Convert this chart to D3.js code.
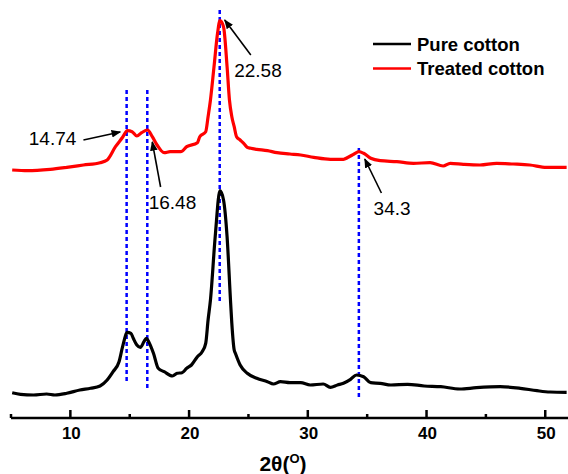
<!DOCTYPE html>
<html>
<head>
<meta charset="utf-8">
<script src="https://cdn.jsdelivr.net/npm/d3@7"></script>
<style>
  html, body { margin: 0; padding: 0; background: #fff; }
  svg { display: block; }
</style>
</head>
<body>
<svg id="chart" width="568" height="474"></svg>
<script>
// ---- Data (2θ in degrees, intensity in arbitrary units) ----
const pureTheta = [5.1,5.8,6.9,8.0,8.7,9.7,10.8,11.7,12.5,13.1,13.6,14.1,14.4,14.8,15.1,15.3,15.6,15.9,16.2,16.4,16.6,17.0,17.4,17.9,18.6,19.0,19.4,19.8,20.2,20.7,21.1,21.4,21.6,21.8,22.2,22.6,22.9,23.2,23.5,23.6,23.8,23.9,24.3,24.9,25.7,26.6,27.1,27.7,28.5,29.4,30.2,31.3,31.9,32.5,33.0,33.6,34.1,34.7,35.3,36.1,37.0,38.4,39.8,41.2,42.8,44.2,46.2,47.9,49.3,50.4,51.8];
const pureIntensity = [25.3,23.7,23,24,23,24.7,28,29.7,32,38,46.3,56.3,71.3,85.7,84.7,79.7,73,70.7,76.3,79.7,76.3,64.7,49.7,46.3,42,44.7,45.3,49.7,53,61.3,66.3,74.7,98,118,181.3,227.3,218,181.3,115,94.7,68,64.7,53,44.7,39.7,36.3,34,36.3,35.3,35.3,33,34,30.7,33,34.7,38.7,43,41.3,35.3,34.7,33,33.7,32,31.3,29,30.3,31.3,29.7,27.3,26,25.7];

const treatedTheta = [5.1,6.4,8.3,9.7,11.1,12.5,13.1,13.8,14.4,14.8,15.2,15.6,16.0,16.5,16.9,17.3,17.9,18.4,19.3,19.8,20.7,20.9,21.4,21.6,21.8,22.1,22.4,22.6,22.9,23.2,23.4,23.6,23.8,24.0,24.3,24.6,24.9,25.2,25.7,26.6,27.4,28.5,29.4,30.5,31.9,33.0,33.4,33.9,34.3,34.7,35.3,36.1,37.5,38.9,40.3,41.4,42.0,43.1,44.5,45.9,47.3,48.7,50.1,51.8];
const treatedIntensity = [248,247.3,248.7,250.7,253,255.3,258,271.3,280.7,287.3,286.3,282,285.3,288,281.3,273,265.3,266.3,266.3,271.3,275.3,281.3,286.3,301.3,318,351.3,385,397.3,391.3,351.3,318,301.3,291.3,281.3,278,274.7,270.7,269.7,268.7,267.3,265.3,264,263,260.7,258.7,258.7,260.7,264,266.3,264.7,259.7,257.3,256.3,254.7,255.3,252,254.7,253.7,253,254.7,254,253,250.7,250.7];

const seriesNames = ["Pure cotton", "Treated cotton"];
const seriesColors = ["#000000", "#ff0000"];

const xTicksMajor = [10, 20, 30, 40, 50];
const xTicksMinor = [15, 25, 35, 45];

// Peak markers: position, dashed line extent (intensity), label
const peakPos = [14.74, 16.48, 22.58, 34.3];
const peakLabels = ["14.74", "16.48", "22.58", "34.3"];
const peakLineTop = [328, 328, 408, 270];
const peakLineBottom = [36, 30, 115, 19];
// arrows: tail (theta, intensity) -> tip (theta, intensity); label centre
const arrowFromTheta = [11.1, 17.6, 25.2, 36.2];
const arrowFromI = [278, 231, 363, 225];
const arrowToTheta = [14.2, 16.9, 23.0, 34.8];
const arrowToI = [286, 276, 398, 259];
const labelTheta = [8.5, 18.6, 25.8, 37.1];
const labelI = [280, 216, 348, 210];

// ---- Chart ----
const svg = d3.select("#chart");
const x = d3.scaleLinear().domain([5, 52]).range([11, 569]);
const y = d3.scaleLinear().domain([0, 418]).range([418, 0]);
const axisY = 418;

// arrow marker
svg.append("defs").append("marker")
  .attr("id", "arrowhead")
  .attr("viewBox", "0 0 10 10")
  .attr("refX", 9).attr("refY", 5)
  .attr("markerWidth", 6).attr("markerHeight", 6)
  .attr("markerUnits", "strokeWidth")
  .attr("orient", "auto")
  .append("path").attr("d", "M0,1 L10,5 L0,9 Z").attr("fill", "#000");

// dashed peak lines
svg.append("g").selectAll("line").data(peakPos).join("line")
  .attr("x1", d => x(d)).attr("x2", d => x(d))
  .attr("y1", (d, i) => y(peakLineTop[i]))
  .attr("y2", (d, i) => y(peakLineBottom[i]))
  .attr("stroke", "#0000ff").attr("stroke-width", 2.5)
  .attr("stroke-dasharray", "4,3");

const line = d3.line().curve(d3.curveMonotoneX).x(d => x(d[0])).y(d => y(d[1]));
const pureData = pureTheta.map((t, i) => [t, pureIntensity[i]]);
const treatedData = treatedTheta.map((t, i) => [t, treatedIntensity[i]]);

svg.append("path").datum(pureData)
  .attr("d", line).attr("fill", "none")
  .attr("stroke", seriesColors[0]).attr("stroke-width", 3.2)
  .attr("stroke-linejoin", "round");
svg.append("path").datum(treatedData)
  .attr("d", line).attr("fill", "none")
  .attr("stroke", seriesColors[1]).attr("stroke-width", 3.2)
  .attr("stroke-linejoin", "round");

// arrows
svg.append("g").selectAll("line").data(peakLabels).join("line")
  .attr("x1", (d, i) => x(arrowFromTheta[i]))
  .attr("y1", (d, i) => y(arrowFromI[i]))
  .attr("x2", (d, i) => x(arrowToTheta[i]))
  .attr("y2", (d, i) => y(arrowToI[i]))
  .attr("stroke", "#000").attr("stroke-width", 1.6)
  .attr("marker-end", "url(#arrowhead)");

// labels
svg.append("g").selectAll("text").data(peakLabels).join("text")
  .attr("x", (d, i) => x(labelTheta[i]))
  .attr("y", (d, i) => y(labelI[i]))
  .attr("text-anchor", "middle")
  .attr("dominant-baseline", "central")
  .attr("font-family", "Liberation Sans, Arial, sans-serif")
  .attr("font-size", 19)
  .attr("fill", "#000")
  .text(d => d);

// x axis
const gx = svg.append("g");
gx.append("line")
  .attr("x1", x(5)).attr("x2", x(52))
  .attr("y1", axisY).attr("y2", axisY)
  .attr("stroke", "#000").attr("stroke-width", 2.5);
gx.selectAll(".major").data(xTicksMajor).join("line")
  .attr("x1", d => x(d)).attr("x2", d => x(d))
  .attr("y1", axisY).attr("y2", axisY - 8)
  .attr("stroke", "#000").attr("stroke-width", 2.5);
gx.selectAll(".minor").data(xTicksMinor.concat([5])).join("line")
  .attr("x1", d => x(d)).attr("x2", d => x(d))
  .attr("y1", axisY).attr("y2", axisY - 4)
  .attr("stroke", "#000").attr("stroke-width", 2.5);
gx.selectAll("text").data(xTicksMajor).join("text")
  .attr("x", d => x(d) + 1)
  .attr("y", 433.5)
  .attr("text-anchor", "middle")
  .attr("dominant-baseline", "central")
  .attr("font-family", "Liberation Sans, Arial, sans-serif")
  .attr("font-weight", "bold")
  .attr("font-size", 17)
  .text(d => d);

// axis title 2θ(°)
const title = svg.append("text")
  .attr("x", 283).attr("y", 471)
  .attr("text-anchor", "middle")
  .attr("font-family", "Liberation Sans, Arial, sans-serif")
  .attr("font-weight", "bold")
  .attr("font-size", 21);
title.append("tspan").text("2θ(");
title.append("tspan").attr("font-size", 13).attr("dy", -8).text("O");
title.append("tspan").attr("dy", 8).text(")");

// legend
const legend = svg.append("g");
seriesNames.forEach((name, i) => {
  const ly = 44 + i * 24.5;
  legend.append("line")
    .attr("x1", 373).attr("x2", 411)
    .attr("y1", ly).attr("y2", ly)
    .attr("stroke", seriesColors[i]).attr("stroke-width", 2.5);
  legend.append("text")
    .attr("x", 417).attr("y", ly)
    .attr("dominant-baseline", "central")
    .attr("font-family", "Liberation Sans, Arial, sans-serif")
    .attr("font-weight", "bold")
    .attr("font-size", 18.5)
    .text(name);
});
</script>
</body>
</html>
